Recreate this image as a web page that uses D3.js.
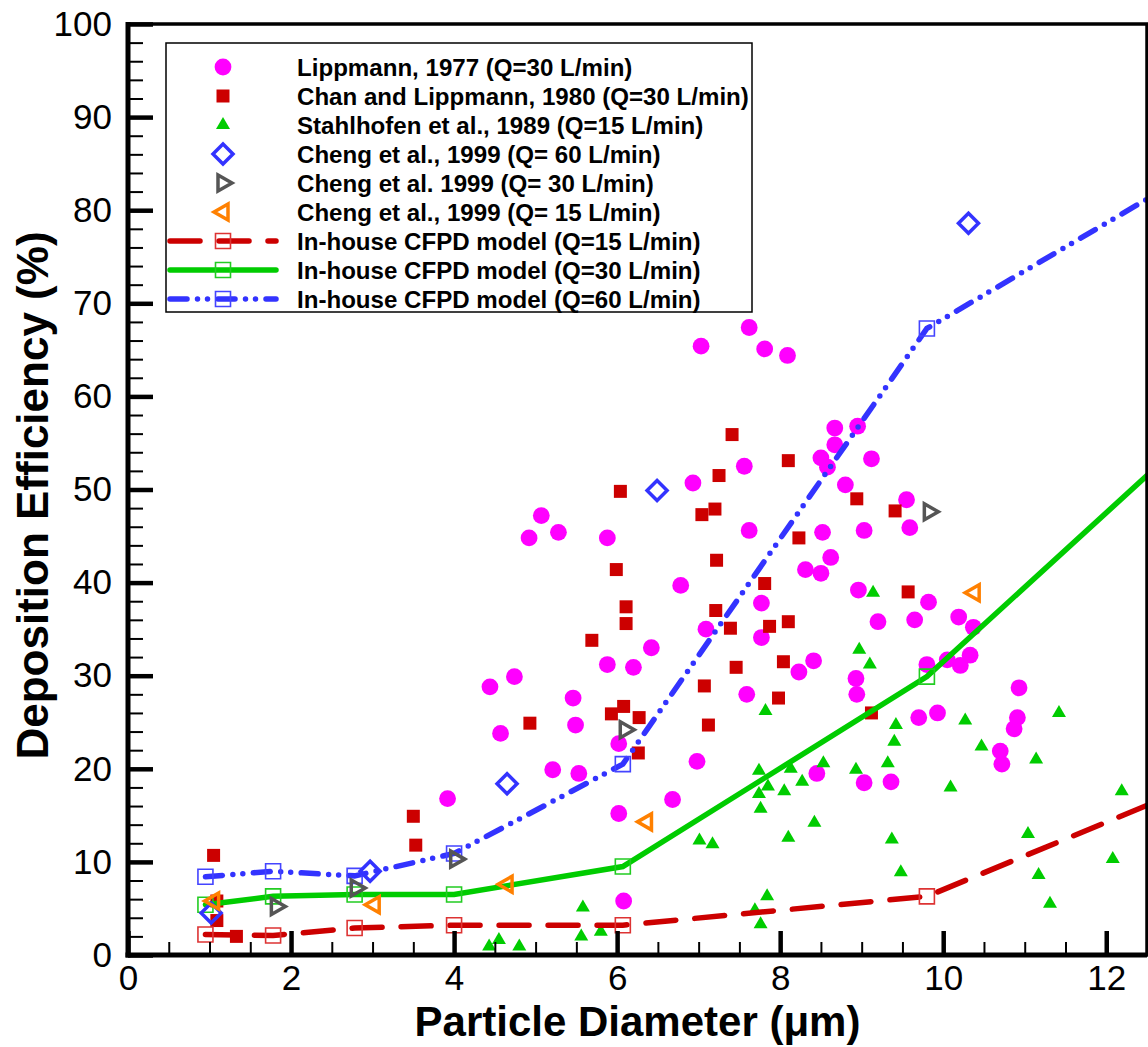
<html>
<head>
<style>
  body { margin: 0; background: #fff; }
  text { font-family: "Liberation Sans", Arial, sans-serif; }
</style>
</head>
<body>
<svg id="chart" width="1148" height="1047"></svg>
<script src="https://cdn.jsdelivr.net/npm/d3@7"></script>
<script>
// measured data, [diameter um, efficiency %]
const lippmann1977 = [
  [7.03,65.4],[6.93,50.7],[5.07,47.2],[4.92,44.8],[5.28,45.4],[5.88,44.8],[6.78,39.7],[7.09,35.0],
  [6.42,33.0],[5.88,31.2],[6.2,30.9],[4.74,29.9],[4.44,28.8],[5.46,27.6],[5.49,24.7],[4.57,23.8],
  [6.02,22.7],[6.98,20.8],[5.21,19.9],[5.53,19.5],[3.92,16.8],[6.02,15.2],[6.08,5.8],[6.68,16.7],
  [7.62,67.4],[7.81,65.1],[8.09,64.4],[8.67,56.6],[8.95,56.8],[8.67,54.8],[8.5,53.4],[8.58,52.4],
  [9.12,53.3],[7.56,52.5],[8.8,50.5],[9.55,48.9],[9.59,45.9],[7.62,45.6],[8.52,45.4],[9.03,45.6],
  [8.62,42.7],[8.31,41.4],[8.5,41.0],[8.96,39.2],[7.77,37.8],[9.82,37.9],[7.77,34.1],[9.2,35.8],
  [9.65,36.0],[10.19,36.3],[10.37,35.2],[8.41,31.6],[8.23,30.4],[8.93,29.7],[8.94,28.0],[7.59,28.0],
  [9.8,31.2],[10.05,31.7],[10.21,31.1],[10.33,32.2],[9.7,25.5],[9.93,26.0],[8.45,19.5],[9.03,18.5],
  [9.36,18.6],[10.93,28.7],[10.91,25.5],[10.87,24.3],[10.7,21.9],[10.72,20.5]
];
const chanLippmann1980 = [
  [1.05,10.7],[1.09,3.7],[1.09,5.8],[1.33,2.0],[3.5,14.9],[3.53,11.8],[6.04,49.8],[7.25,51.5],
  [7.2,47.9],[7.04,47.3],[7.22,42.4],[5.99,41.4],[6.11,37.4],[6.11,35.6],[7.21,37.0],[5.69,33.8],
  [7.07,28.9],[6.08,26.7],[5.93,25.9],[6.27,25.5],[4.93,24.9],[7.12,24.7],[6.26,21.7],[7.41,55.9],
  [8.1,53.1],[8.94,49.0],[9.41,47.7],[8.23,44.8],[7.81,39.9],[9.57,39.0],[7.39,35.1],[7.87,35.3],
  [8.1,35.8],[7.46,30.9],[8.04,31.5],[7.98,27.6],[9.12,26.0]
];
const stahlhofen1989 = [
  [4.43,0.9],[4.55,1.6],[4.8,0.9],[5.58,5.1],[5.56,2.0],[5.8,2.5],[7.69,4.8],[7.84,6.3],[7.76,3.3],
  [11.31,5.5],[7.82,26.2],[9.42,24.7],[9.4,22.9],[10.27,25.2],[11.42,26.0],[10.47,22.4],[11.14,21.0],
  [9.32,20.6],[8.93,19.9],[8.53,20.6],[8.13,20.0],[7.74,19.8],[8.27,18.6],[7.85,18.1],[8.05,17.6],
  [7.74,17.3],[7.76,15.7],[10.09,18.0],[12.19,17.6],[8.42,14.2],[8.1,12.6],[9.37,12.4],[7.01,12.3],
  [7.17,11.9],[11.04,13.0],[12.08,10.3],[9.48,8.9],[11.17,8.6],[9.14,38.9],[8.97,32.8],[9.1,31.2]
];
const cheng60 = [[1.02,4.5],[2.97,9.0],[4.65,18.4],[6.49,49.9],[10.31,78.6]];
const cheng30 = [[1.82,5.2],[2.8,7.2],[4.02,10.3],[6.1,24.2],[9.83,47.6]];
const cheng15 = [[1.05,5.8],[3.02,5.4],[4.65,7.6],[6.36,14.3],[10.38,38.9]];

// in-house CFPD model (last point lies beyond the axis and is clipped)
const cfpdX  = [0.95, 1.78, 2.78, 4.0, 6.07, 9.8, 14];
const cfpd15 = [2.2, 2.1, 2.9, 3.2, 3.2, 6.3, 21.5];
const cfpd30 = [5.4, 6.3, 6.5, 6.5, 9.5, 29.9, 63.5];
const cfpd60 = [8.4, 9.0, 8.5, 10.9, 20.5, 67.3, 88.9];

const legendLabels = [
  "Lippmann, 1977 (Q=30 L/min)",
  "Chan and Lippmann, 1980 (Q=30 L/min)",
  "Stahlhofen et al., 1989 (Q=15 L/min)",
  "Cheng et al., 1999 (Q= 60 L/min)",
  "Cheng et al. 1999 (Q= 30 L/min)",
  "Cheng et al., 1999 (Q= 15 L/min)",
  "In-house CFPD model (Q=15 L/min)",
  "In-house CFPD model (Q=30 L/min)",
  "In-house CFPD model (Q=60 L/min)"
];

const svg = d3.select("#chart");
const pLeft = 128, pRight = 1147, pTop = 24, pBottom = 955;

const x = d3.scaleLinear().domain([0, 12.5]).range([pLeft, pRight]);
const y = d3.scaleLinear().domain([0, 100]).range([pBottom, pTop]);

// marker shapes
const shapes = {
  circle: () => d3.symbol(d3.symbolCircle, Math.PI * 8.4 * 8.4)(),
  square: s => `M${-s/2},${-s/2}h${s}v${s}h${-s}Z`,
  triUp: () => "M0,-8L7,4L-7,4Z",
  diamond: () => "M0,-10L10,0L0,10L-10,0Z",
  triRight: () => "M9,0L-5,8L-5,-8Z",
  triLeft: () => "M-9,0L5,-8L5,8Z"
};

svg.append("defs").append("clipPath").attr("id", "plot")
  .append("rect").attr("x", pLeft).attr("y", pTop)
  .attr("width", pRight - pLeft).attr("height", pBottom - pTop);

const plot = svg.append("g").attr("clip-path", "url(#plot)");

function scatter(data, path, fill, stroke) {
  plot.append("g").selectAll("path").data(data).enter().append("path")
    .attr("transform", d => `translate(${x(d[0])},${y(d[1])})`)
    .attr("d", path)
    .attr("fill", fill || "none")
    .attr("stroke", stroke || "none")
    .attr("stroke-width", stroke ? 3.5 : 0)
    .attr("stroke-linejoin", "miter");
}

scatter(lippmann1977, shapes.circle(), "#ff00ff");
scatter(chanLippmann1980, shapes.square(13), "#cc0000");
scatter(stahlhofen1989, shapes.triUp(), "#00cc00");

// model curves
const models = [
  { vals: cfpd15, color: "#cc0000", mark: "#dd3333", dash: "30,19" },
  { vals: cfpd30, color: "#00cc00", mark: "#22cc22", dash: null },
  { vals: cfpd60, color: "#3333ff", mark: "#4444ff", dash: "17,10.5,0,10,0,10.5" }
];
const line = d3.line().x(d => x(d[0])).y(d => y(d[1]));

models.forEach(m => {
  const pts = cfpdX.map((v, i) => [v, m.vals[i]]);
  plot.append("path").datum(pts)
    .attr("d", line)
    .attr("fill", "none")
    .attr("stroke", m.color)
    .attr("stroke-width", 5.5)
    .attr("stroke-linecap", "round")
    .attr("stroke-dasharray", m.dash);
  plot.append("g").selectAll("path").data(pts).enter().append("path")
    .attr("transform", d => `translate(${x(d[0])},${y(d[1])})`)
    .attr("d", shapes.square(15))
    .attr("fill", "none")
    .attr("stroke", m.mark)
    .attr("stroke-width", 1.6);
});

scatter(cheng60, shapes.diamond(), null, "#3333ff");
scatter(cheng30, shapes.triRight(), null, "#555555");
scatter(cheng15, shapes.triLeft(), null, "#ff8000");

// axes: ticks point inwards
const yMajor = d3.range(0, 101, 10);
const yMinor = d3.range(0, 100, 2).filter(v => v % 10 !== 0);
const xMajor = d3.range(0, 13, 2);
const xMinor = d3.range(0, 12.6, 0.5).filter(v => v % 2 !== 0);

const gy = svg.append("g").attr("transform", `translate(${pLeft},0)`);
gy.call(d3.axisLeft(y).tickValues(yMinor).tickSize(-15).tickFormat(""));
gy.selectAll("line").attr("stroke-width", 2);
const gyMaj = svg.append("g").attr("transform", `translate(${pLeft},0)`)
  .call(d3.axisLeft(y).tickValues(yMajor).tickSize(-25).tickPadding(16));
gyMaj.selectAll("line").attr("stroke-width", 4.5);
gyMaj.selectAll("text").attr("font-size", 35).attr("fill", "#000")
  .attr("font-family", "'Liberation Sans', Arial, sans-serif");

const gx = svg.append("g").attr("transform", `translate(0,${pBottom})`);
gx.call(d3.axisBottom(x).tickValues(xMinor).tickSize(-13).tickFormat(""));
gx.selectAll("line").attr("stroke-width", 2);
const gxMaj = svg.append("g").attr("transform", `translate(0,${pBottom})`)
  .call(d3.axisBottom(x).tickValues(xMajor).tickSize(-24).tickPadding(10));
gxMaj.selectAll("line").attr("stroke-width", 4.5);
gxMaj.selectAll("text").attr("font-size", 35).attr("fill", "#000")
  .attr("font-family", "'Liberation Sans', Arial, sans-serif");

svg.selectAll(".domain").remove();

// frame
svg.append("rect").attr("x", pLeft).attr("y", pTop)
  .attr("width", pRight - pLeft).attr("height", pBottom - pTop)
  .attr("fill", "none").attr("stroke", "#000").attr("stroke-width", 3.5);
svg.append("line").attr("x1", pLeft).attr("x2", pLeft).attr("y1", pTop - 2).attr("y2", pBottom + 2.5)
  .attr("stroke", "#000").attr("stroke-width", 5);
svg.append("line").attr("x1", pLeft - 2.5).attr("x2", pRight).attr("y1", pBottom).attr("y2", pBottom)
  .attr("stroke", "#000").attr("stroke-width", 5);

// axis titles
svg.append("text")
  .attr("x", (pLeft + pRight) / 2).attr("y", 1036)
  .attr("text-anchor", "middle")
  .attr("font-size", 42).attr("font-weight", "bold")
  .text("Particle Diameter (\u03bcm)");

svg.append("text")
  .attr("transform", `translate(48,${(pTop + pBottom) / 2 + 6}) rotate(-90)`)
  .attr("text-anchor", "middle")
  .attr("font-size", 44).attr("font-weight", "bold")
  .text("Deposition Efficiency (%)");

// legend
const lg = svg.append("g");
lg.append("rect").attr("x", 166).attr("y", 43).attr("width", 586).attr("height", 269)
  .attr("fill", "#fff").attr("stroke", "#000").attr("stroke-width", 1.5);

const legendMarks = [
  { d: shapes.circle(), fill: "#ff00ff" },
  { d: shapes.square(13), fill: "#cc0000" },
  { d: shapes.triUp(), fill: "#00cc00" },
  { d: shapes.diamond(), stroke: "#3333ff" },
  { d: shapes.triRight(), stroke: "#555555" },
  { d: shapes.triLeft(), stroke: "#ff8000" },
  { model: models[0] },
  { model: models[1] },
  { model: models[2] }
];

legendLabels.forEach((label, i) => {
  const cy = 67 + i * 29;
  const mk = legendMarks[i];
  if (mk.model) {
    lg.append("line").attr("x1", 170).attr("x2", 276).attr("y1", cy).attr("y2", cy)
      .attr("stroke", mk.model.color).attr("stroke-width", 5.5)
      .attr("stroke-linecap", "round")
      .attr("stroke-dasharray", mk.model.dash);
    lg.append("path").attr("transform", `translate(223,${cy})`)
      .attr("d", shapes.square(15)).attr("fill", "none")
      .attr("stroke", mk.model.mark).attr("stroke-width", 1.6);
  } else {
    lg.append("path").attr("transform", `translate(223,${cy})`)
      .attr("d", mk.d)
      .attr("fill", mk.fill || "none")
      .attr("stroke", mk.stroke || "none")
      .attr("stroke-width", mk.stroke ? 3.5 : 0);
  }
  lg.append("text").attr("x", 297).attr("y", cy).attr("dy", "0.36em")
    .attr("font-size", 24.1).attr("font-weight", "bold")
    .text(label);
});
</script>
</body>
</html>
